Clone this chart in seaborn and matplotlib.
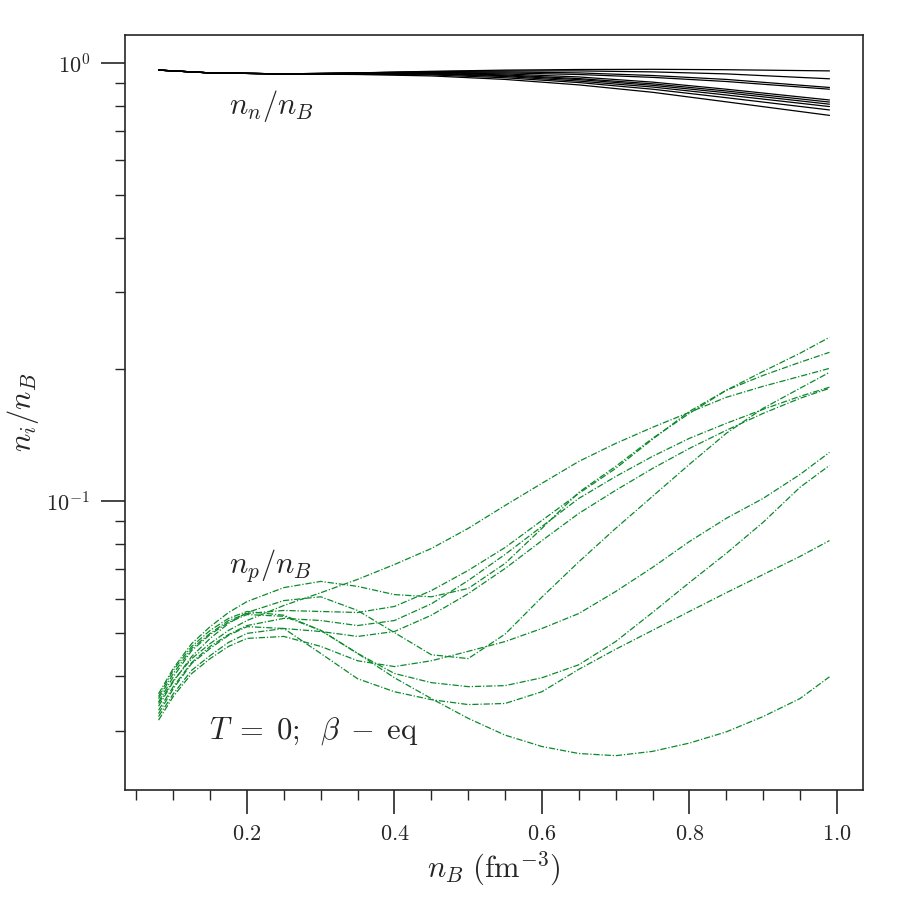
import matplotlib
matplotlib.use("Agg")
import matplotlib.pyplot as plt
import seaborn as sns
from matplotlib.ticker import MultipleLocator, LogLocator, NullFormatter

# baryon density grid (fm^-3)
nb_p = [0.08, 0.10, 0.125, 0.15, 0.175, 0.20, 0.25, 0.30, 0.35, 0.40, 0.45,
        0.50, 0.55, 0.60, 0.65, 0.70, 0.75, 0.80, 0.85, 0.90, 0.95, 0.99]
nb_n = [0.08, 0.15, 0.25, 0.35, 0.45, 0.55, 0.65, 0.75, 0.85, 0.99]

# proton fractions n_p/n_B, one array per model
xp_1 = [0.0346, 0.0390, 0.0438, 0.0474, 0.0508, 0.0535, 0.0579, 0.0619, 0.0664, 0.0718, 0.0781,
        0.0868, 0.0979, 0.1100, 0.1234, 0.1356, 0.1476, 0.1597, 0.1728, 0.1831, 0.1929, 0.2012]
xp_2 = [0.0364, 0.0416, 0.0474, 0.0518, 0.0558, 0.0591, 0.0636, 0.0657, 0.0640, 0.0613, 0.0606,
        0.0633, 0.0722, 0.0868, 0.1049, 0.1202, 0.1393, 0.1588, 0.1793, 0.1980, 0.2178, 0.2368]
xp_3 = [0.0355, 0.0405, 0.0462, 0.0500, 0.0535, 0.0555, 0.0564, 0.0561, 0.0558, 0.0576, 0.0626,
        0.0696, 0.0785, 0.0905, 0.1043, 0.1189, 0.1386, 0.1605, 0.1793, 0.1939, 0.2077, 0.2189]
xp_4 = [0.0334, 0.0378, 0.0429, 0.0467, 0.0497, 0.0521, 0.0541, 0.0535, 0.0521, 0.0535, 0.0584,
        0.0660, 0.0757, 0.0877, 0.1016, 0.1140, 0.1267, 0.1393, 0.1507, 0.1622, 0.1737, 0.1822]
xp_5 = [0.0323, 0.0364, 0.0412, 0.0445, 0.0477, 0.0500, 0.0513, 0.0505, 0.0492, 0.0505, 0.0550,
        0.0616, 0.0703, 0.0814, 0.0939, 0.1060, 0.1189, 0.1321, 0.1453, 0.1588, 0.1719, 0.1812]
xp_6 = [0.0341, 0.0388, 0.0443, 0.0487, 0.0527, 0.0558, 0.0594, 0.0606, 0.0564, 0.0502, 0.0447,
        0.0438, 0.0498, 0.0605, 0.0728, 0.0868, 0.1027, 0.1215, 0.1430, 0.1631, 0.1812, 0.1970]
xp_7 = [0.0317, 0.0359, 0.0405, 0.0438, 0.0467, 0.0487, 0.0492, 0.0467, 0.0433, 0.0420, 0.0433,
        0.0455, 0.0479, 0.0513, 0.0555, 0.0623, 0.0707, 0.0810, 0.0915, 0.1016, 0.1152, 0.1294]
xp_8 = [0.0349, 0.0398, 0.0457, 0.0497, 0.0530, 0.0552, 0.0547, 0.0508, 0.0450, 0.0405, 0.0386,
        0.0378, 0.0380, 0.0396, 0.0424, 0.0479, 0.0558, 0.0653, 0.0761, 0.0896, 0.1077, 0.1208]
xp_9 = [0.0328, 0.0374, 0.0427, 0.0462, 0.0495, 0.0518, 0.0513, 0.0450, 0.0394, 0.0368, 0.0353,
        0.0344, 0.0346, 0.0368, 0.0414, 0.0460, 0.0508, 0.0561, 0.0619, 0.0681, 0.0749, 0.0814]
xp_10 = [0.0359, 0.0412, 0.0467, 0.0508, 0.0541, 0.0561, 0.0550, 0.0508, 0.0450, 0.0396, 0.0355,
         0.0320, 0.0293, 0.0276, 0.0266, 0.0263, 0.0269, 0.0281, 0.0298, 0.0323, 0.0355, 0.0398]

# neutron fractions n_n/n_B
xn_1 = [0.964, 0.950, 0.945, 0.950, 0.958, 0.964, 0.967, 0.968, 0.966, 0.960]
xn_2 = [0.964, 0.950, 0.945, 0.950, 0.956, 0.960, 0.960, 0.955, 0.945, 0.921]
xn_3 = [0.964, 0.950, 0.945, 0.950, 0.955, 0.955, 0.950, 0.937, 0.918, 0.880]
xn_4 = [0.964, 0.950, 0.945, 0.948, 0.952, 0.950, 0.942, 0.928, 0.908, 0.872]
xn_5 = [0.964, 0.950, 0.945, 0.948, 0.950, 0.945, 0.930, 0.905, 0.872, 0.824]
xn_6 = [0.964, 0.950, 0.945, 0.947, 0.948, 0.940, 0.922, 0.897, 0.864, 0.815]
xn_7 = [0.964, 0.950, 0.945, 0.946, 0.946, 0.936, 0.917, 0.890, 0.856, 0.806]
xn_8 = [0.964, 0.950, 0.945, 0.945, 0.944, 0.932, 0.910, 0.882, 0.846, 0.796]
xn_9 = [0.964, 0.950, 0.945, 0.944, 0.940, 0.926, 0.903, 0.872, 0.834, 0.782]
xn_10 = [0.964, 0.950, 0.945, 0.942, 0.935, 0.918, 0.892, 0.858, 0.816, 0.760]

proton_curves = [xp_1, xp_2, xp_3, xp_4, xp_5, xp_6, xp_7, xp_8, xp_9, xp_10]
neutron_curves = [xn_1, xn_2, xn_3, xn_4, xn_5, xn_6, xn_7, xn_8, xn_9, xn_10]

sns.set_style("ticks")
plt.rcParams.update({
    "font.family": ["cmr10"],
    "mathtext.fontset": "cm",
    "axes.formatter.use_mathtext": True,
    "axes.unicode_minus": False,
    "axes.linewidth": 1.2,
})

fig = plt.figure(figsize=(9, 9), dpi=100)
ax = fig.add_axes([125 / 900, 110 / 900, 738 / 900, 755 / 900])

for yn in neutron_curves:
    sns.lineplot(x=nb_n, y=yn, color="black", lw=0.9, ax=ax)
for yp in proton_curves:
    sns.lineplot(x=nb_p, y=yp, color="#0a8a2a", lw=0.9,
                 linestyle=(0, (5, 1.5, 1, 1.5)), ax=ax)

ax.set_yscale("log")
ax.yaxis.set_major_locator(LogLocator(base=10))
ax.yaxis.set_minor_locator(LogLocator(base=10, subs=range(2, 10)))
ax.yaxis.set_minor_formatter(NullFormatter())
ax.xaxis.set_major_locator(MultipleLocator(0.2))
ax.xaxis.set_minor_locator(MultipleLocator(0.05))

ax.tick_params(which="major", direction="out", length=17, width=1.2, labelsize=16, pad=8)
ax.tick_params(which="minor", direction="out", length=7, width=1.0)

ax.set_xlabel(r"$n_B\ (\mathrm{fm}^{-3})$", fontsize=22)
ax.set_ylabel(r"$n_i/n_B$", fontsize=22)

ax.text(0.176, 0.80, r"$n_n/n_B$", fontsize=22, va="center")
ax.text(0.176, 0.0714, r"$n_p/n_B$", fontsize=22, va="center")
ax.text(0.148, 0.0300, r"$T\;=\;0;\;\;\beta\;-\;\mathrm{eq}$", fontsize=22, va="center")

plt.savefig("out.png", dpi=100)
plt.close()
